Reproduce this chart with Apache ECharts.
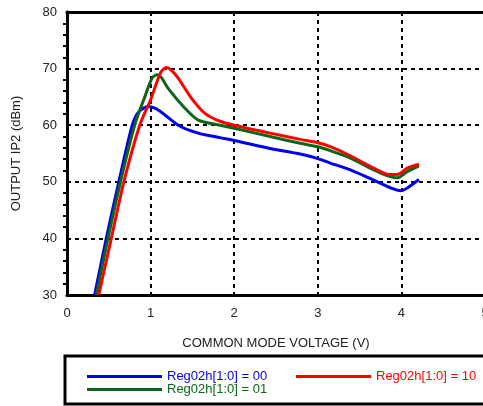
<!DOCTYPE html>
<html>
<head>
<meta charset="utf-8">
<script src="https://cdn.jsdelivr.net/npm/echarts@6/dist/echarts.min.js"></script>
<style>html,body{margin:0;padding:0;background:#fff}#c{width:483px;height:406px}</style>
</head>
<body>
<div id="c"></div>
<script>
var xTicks = [0, 1, 2, 3, 4, 5];
var yTicks = [30, 40, 50, 60, 70, 80];
var seriesNames = ['Reg02h[1:0] = 00', 'Reg02h[1:0] = 01', 'Reg02h[1:0] = 10'];
var blue00 = [[0.33,30],[0.47,40],[0.62,50],[0.78,60],[0.86,62.4],[0.97,63.3],[1.1,62.6],[1.33,60.0],[1.57,58.6],[1.83,57.8],[2.0,57.3],[2.43,55.9],[2.79,54.9],[3.0,54.1],[3.15,53.3],[3.39,52.1],[3.67,50.3],[3.99,48.4],[4.07,48.9],[4.21,50.4]];
var green01 = [[0.35,30],[0.49,40],[0.64,50],[0.81,60],[0.93,65],[1.02,68.4],[1.08,68.9],[1.13,68.4],[1.21,66.5],[1.41,63.0],[1.57,60.9],[1.83,60.0],[2.0,59.45],[2.43,58.0],[2.79,56.8],[3.0,56.2],[3.15,55.5],[3.39,54.2],[3.67,52.1],[3.83,51.1],[3.95,50.7],[4.07,51.8],[4.21,52.8]];
var red10 = [[0.38,30],[0.53,40],[0.68,50],[0.87,60],[1.0,64.5],[1.12,69.3],[1.19,70.2],[1.25,69.7],[1.33,68.3],[1.49,64.75],[1.65,62.1],[1.83,60.7],[2.0,60.0],[2.43,58.6],[2.79,57.5],[3.0,56.9],[3.15,56.2],[3.39,54.6],[3.67,52.4],[3.85,51.3],[3.95,51.3],[4.07,52.4],[4.21,53.1]];
var colors = ['#0000f0', '#0b6618', '#ff0000'];

var chart = echarts.init(document.getElementById('c'), null, {renderer: 'canvas'});
var font = 'Liberation Sans, Arial, Helvetica, sans-serif';
var dashed = {show: true, lineStyle: {color: '#000', width: 2, type: [4, 4]}};
var minor = {show: true, splitNumber: 5, length: 3, lineStyle: {color: '#000', width: 2}};
function legendItem(name, color, left, top) {
  return {
    left: left, top: top, itemWidth: 75, itemHeight: 3, icon: 'rect',
    selectedMode: false,
    textStyle: {fontSize: 13, fontFamily: font},
    data: [{name: name, textStyle: {color: color}}]
  };
}
chart.setOption({
  animation: false,
  textStyle: {fontFamily: font},
  grid: {left: 67, top: 12, width: 418, height: 283, containLabel: false, outerBoundsMode: 'none'},
  xAxis: [{
    type: 'value', min: xTicks[0], max: xTicks[xTicks.length - 1], interval: 1,
    position: 'bottom',
    name: 'COMMON MODE VOLTAGE (V)', nameLocation: 'middle', nameGap: 42,
    nameTextStyle: {fontSize: 13, color: '#222', fontFamily: font},
    axisLine: {show: true, lineStyle: {color: '#000', width: 3}},
    axisTick: {show: false},
    axisLabel: {fontSize: 13, color: '#222', margin: 12, fontFamily: font},
    splitLine: dashed
  }, {
    type: 'value', min: 0, max: 5, interval: 1, position: 'top',
    axisLine: {show: true, lineStyle: {color: '#000', width: 3}},
    axisTick: {show: false}, axisLabel: {show: false}, splitLine: {show: false}
  }],
  yAxis: [{
    type: 'value', min: yTicks[0], max: yTicks[yTicks.length - 1], interval: 10,
    position: 'left',
    name: 'OUTPUT IP2 (dBm)', nameLocation: 'middle', nameGap: 44, nameRotate: 90,
    nameTextStyle: {fontSize: 13, color: '#222', fontFamily: font},
    axisLine: {show: true, lineStyle: {color: '#000', width: 3}},
    axisTick: {show: false},
    minorTick: minor,
    axisLabel: {fontSize: 13, color: '#222', margin: 10, padding: [0, 0, 7, 0], fontFamily: font},
    splitLine: dashed
  }, {
    type: 'value', min: 30, max: 80, interval: 10, position: 'right',
    axisLine: {show: true, lineStyle: {color: '#000', width: 3}},
    axisTick: {show: false}, axisLabel: {show: false}, splitLine: {show: false},
    minorTick: {show: true, splitNumber: 5, length: -4, lineStyle: {color: '#000', width: 2}}
  }],
  legend: [
    legendItem(seriesNames[0], colors[0], 82, 365),
    legendItem(seriesNames[2], colors[2], 291, 365),
    legendItem(seriesNames[1], colors[1], 82, 378)
  ],
  graphic: [{
    type: 'rect', shape: {x: 65, y: 356, width: 440, height: 48},
    style: {fill: 'none', stroke: '#000', lineWidth: 3}, silent: true
  }],
  series: [
    {name: seriesNames[0], type: 'line', data: blue00, showSymbol: false, symbol: 'none', smooth: 0.25, lineStyle: {color: colors[0], width: 3}, itemStyle: {color: colors[0]}},
    {name: seriesNames[1], type: 'line', data: green01, showSymbol: false, symbol: 'none', smooth: 0.25, lineStyle: {color: colors[1], width: 3}, itemStyle: {color: colors[1]}},
    {name: seriesNames[2], type: 'line', data: red10, showSymbol: false, symbol: 'none', smooth: 0.25, lineStyle: {color: colors[2], width: 3}, itemStyle: {color: colors[2]}}
  ]
});
</script>
</body>
</html>
